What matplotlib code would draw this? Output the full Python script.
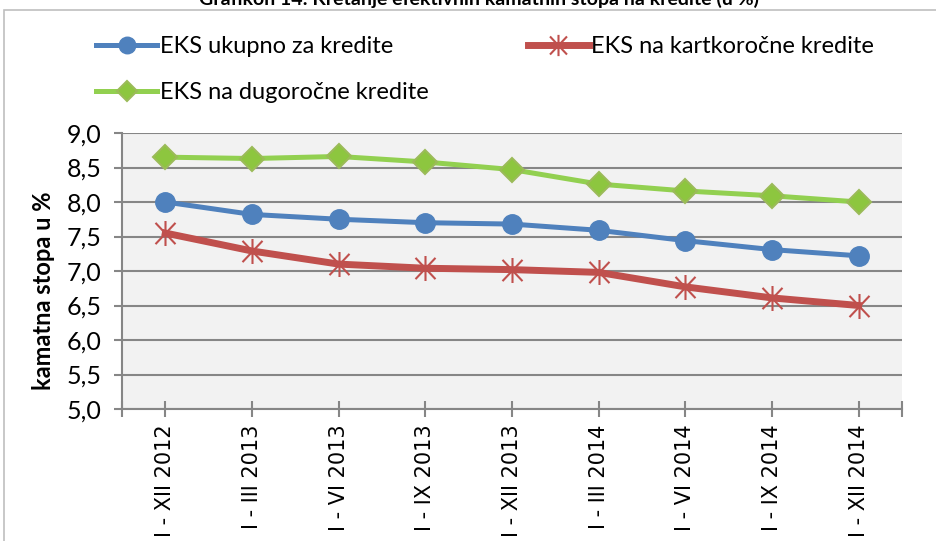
#Kretanje efektivnih kamatnih stopa na kredite
import numpy as np
import matplotlib
matplotlib.use("Agg")
import matplotlib.pyplot as plt
from matplotlib.path import Path
from matplotlib.patches import Rectangle

# Data
periods = ["I - XII 2012", "I - III 2013", "I - VI 2013", "I - IX 2013", "I - XII 2013",
           "I - III 2014", "I - VI 2014", "I - IX 2014", "I - XII 2014"]
eks_ukupno = [8.00, 7.82, 7.75, 7.70, 7.68, 7.59, 7.44, 7.31, 7.22]
eks_kratkorocni = [7.55, 7.29, 7.10, 7.04, 7.02, 6.98, 6.77, 6.61, 6.50]
eks_dugorocni = [8.65, 8.63, 8.66, 8.58, 8.47, 8.26, 8.16, 8.09, 8.00]

labels = ["EKS ukupno za kredite", "EKS na kartkoročne kredite", "EKS na dugoročne kredite"]
title = "Grafikon 14: Kretanje efektivnih kamatnih stopa na kredite (u %)"

plt.rcParams['font.family'] = ['Lato', 'DejaVu Sans']

# Excel-like star marker: vertical bar plus an X
star = Path([(0, -1), (0, 1), (-0.8, -0.85), (0.8, 0.85), (-0.8, 0.85), (0.8, -0.85)],
            [Path.MOVETO, Path.LINETO, Path.MOVETO, Path.LINETO, Path.MOVETO, Path.LINETO])

fig = plt.figure(figsize=(9.36, 5.41), dpi=100)
fig.patches.append(Rectangle((4 / 936, -0.1), 1.2, 1.1 - 10 / 541, transform=fig.transFigure,
                             fill=False, edgecolor='#BFBFBF', lw=1.2))

ax = fig.add_axes([122 / 936, 1 - 409 / 541, 780 / 936, 276 / 541])
ax.set_facecolor('#F2F2F2')
x = np.arange(len(periods))

l1, = ax.plot(x, eks_ukupno, color='#4F81BD', lw=3.6, marker='o', ms=14,
              markerfacecolor='#4F81BD', markeredgecolor='#4F81BD', zorder=3)
l2, = ax.plot(x, eks_kratkorocni, color='#C0504D', lw=5, marker=star, ms=18,
              markerfacecolor='none', markeredgecolor='#C0504D', markeredgewidth=1.5, zorder=3)
l3, = ax.plot(x, eks_dugorocni, color='#92D050', lw=3.6, marker='D', ms=12,
              markerfacecolor='#8DC63F', markeredgecolor='#9BBB59', markeredgewidth=1.5, zorder=3)

ax.set_xlim(-0.5, len(periods) - 0.5)
ax.set_ylim(5.0, 9.0)
ax.set_yticks(np.arange(5.0, 9.01, 0.5))
ax.set_yticklabels([f"{v:.1f}".replace('.', ',') for v in np.arange(5.0, 9.01, 0.5)], fontsize=18)
ax.set_xticks(x)
ax.set_xticklabels(periods, rotation=90, fontsize=15, family='DejaVu Sans', va='top')
ax.set_xticks([-0.5, len(periods) - 0.5], minor=True)
ax.tick_params(axis='y', length=6, width=1.5, color='#868686', pad=9)
ax.tick_params(axis='x', which='both', direction='inout', length=12, width=1.5, color='#868686', pad=5)

ax.grid(axis='y', color='#868686', lw=1.5)
ax.set_axisbelow(True)
for s in ['top', 'right']:
    ax.spines[s].set_visible(False)
for s in ['left', 'bottom']:
    ax.spines[s].set_color('#868686')
    ax.spines[s].set_linewidth(1.5)

ax.set_ylabel("kamatna stopa u %", fontsize=17, fontweight='bold')
ax.yaxis.set_label_coords(-67 / 780, 0.43)

fig.legend([l1, l3, l2], [labels[0], labels[2], labels[1]], ncol=2, frameon=False,
           loc='upper left', bbox_to_anchor=(96 / 936, 1 - 36 / 541), fontsize=17,
           handlelength=2.6, handletextpad=0.1, columnspacing=4.2, labelspacing=1.07,
           markerscale=0.85, borderaxespad=0, borderpad=0)

fig.text(479 / 936, 1 - 5 / 541, title, ha='center', va='baseline', fontsize=14, fontweight='bold')

fig.savefig("out.png", dpi=100)
